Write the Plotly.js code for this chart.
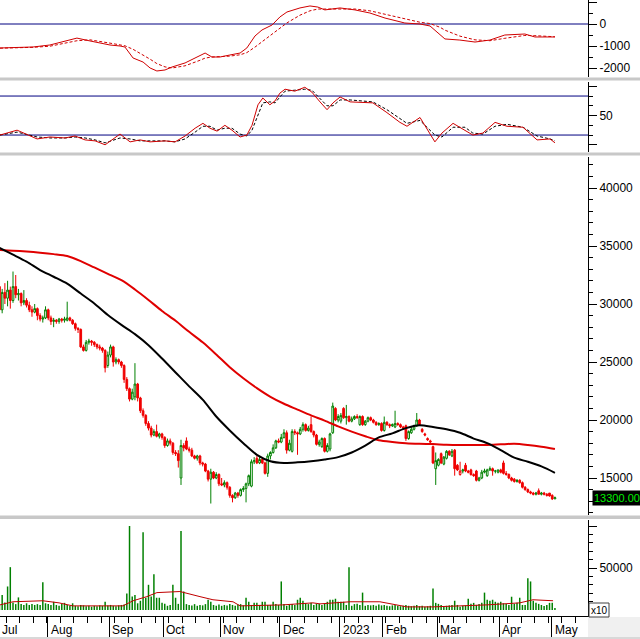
<!DOCTYPE html>
<html><head><meta charset="utf-8">
<script src="https://cdn.plot.ly/plotly-3.0.1.min.js"></script>
<style>html,body{margin:0;padding:0;background:#fff;overflow:hidden}#chart{width:640px;height:639px}</style>
</head><body><div id="chart"></div>
<script>
// ---- Daily OHLC (trading-day index 0..205, Jul 2022 .. early May 2023) ----
const openP = [31500,29500,31000,30500,31200,30300,31500,30800,30900,30100,
30300,29900,29500,29300,29600,29000,28700,28800,29500,28800,
28500,28600,28500,28700,28600,28600,28800,28600,28300,27900,
27800,26300,26000,26700,26800,26700,26500,26300,26200,26000,
24700,25600,26300,25000,25200,25000,24700,23500,22700,21800,
22000,23100,21900,20800,20400,19700,19300,18700,19000,18600,
18800,18500,17800,18200,18000,17200,17100,15000,17800,18200,
17500,17400,16900,16700,16900,16300,16200,15600,14900,15500,
15000,15300,14500,14400,14600,14200,13500,13300,13700,13500,
14000,14100,14500,14300,16400,16700,16300,16600,16300,15400,
16900,17200,17600,18200,18100,18500,18900,17400,17300,19000,
18900,18800,19200,19600,19100,19600,19000,18700,17900,17700,
18400,17300,17500,18900,21000,20000,19900,21000,20200,20300,
19900,20100,20300,19600,20300,19600,19900,20200,20000,19800,
19600,19700,19100,19800,19600,19500,19400,19700,19600,19400,
19500,18400,18900,19200,19500,20000,19200,18800,18400,18200,
17700,15800,16100,17100,16200,16700,17300,16900,17400,16100,
15300,15600,16100,15600,15700,15300,15600,14800,15000,15500,
15200,15700,15800,15600,15500,15700,16300,15400,15300,15000,
14900,14700,14800,14600,14200,14000,13800,13700,13600,13900,
13600,13700,13600,13700,13500,13200];
const highP = [32300,31300,31800,32000,31500,32800,32500,31300,31000,31200,
30500,30200,29800,30000,29700,29200,29000,29800,29600,29000,
28800,28700,28800,28800,28900,30200,28900,28700,28400,28000,
27900,26500,26900,27000,26900,26800,26600,26500,26300,26100,
25900,26500,26400,25400,25300,25100,24800,23700,22800,22700,
24900,23200,22000,21000,20500,19900,19500,19200,19600,18900,
18900,18600,18400,18400,18100,17400,17400,18300,18000,18500,
17700,17600,17000,17000,17000,16400,16300,15700,15800,15600,
15500,15400,15000,14800,14700,14300,13600,13800,13800,14100,
14300,14600,15300,16600,16800,16900,16900,16700,16400,17100,
17300,17900,18300,18400,18800,19200,19100,18300,19200,19200,
19000,19400,19800,19700,19500,20300,19100,18800,18300,18500,
18500,18000,18900,21500,21100,20500,20600,21100,21300,20400,
20300,20400,20500,20400,20400,20000,20300,20300,20100,19900,
19800,19800,20300,19900,19700,19700,20800,19800,19700,19500,
19600,19100,19400,19600,20600,20100,19300,18900,18500,18300,
17800,17200,16700,17200,16900,17400,17400,17500,17500,16200,
16400,15800,16300,15700,15800,15400,15700,15100,15700,15800,
15800,16000,15900,15700,15700,15800,16500,15600,15400,15100,
15000,14900,14900,14700,14300,14100,13900,13800,13800,14100,
13800,13800,13700,13700,13600,13400];
const lowP = [29200,29200,30000,29800,29600,30100,30500,30300,29800,29900,
29700,29300,28900,29200,28600,28500,28400,28700,28600,28200,
28000,28300,28300,28400,28400,28500,28500,28200,27700,27500,
26200,25900,25900,26500,26400,26300,26100,26000,25800,24100,
24500,25400,24600,24800,24800,24500,23200,22500,21600,21700,
21700,21600,20600,20200,19500,19100,18500,18600,18500,18400,
18300,17600,17700,17800,17000,16900,15900,14400,17300,17400,
17200,16800,16600,16500,16100,16000,15500,14700,12800,14900,
14900,14300,14300,14200,14000,13300,12900,13200,13300,13400,
13800,12900,14300,14200,16200,16200,16200,16200,15300,15100,
16600,17100,17500,18000,18000,18400,17100,17300,17200,18700,
17000,18700,19000,19000,19000,18900,18500,17800,17700,17600,
17200,17200,17300,18800,19900,19800,19700,20100,19600,19800,
19800,20000,20100,19500,19500,19500,19800,19900,19700,19500,
19500,19000,19000,19500,19300,19400,19300,19500,19300,19200,
18200,18300,18800,19100,19400,19500,18900,18600,18200,17900,
16200,14400,16000,16200,16100,16600,16900,16800,15200,15600,
15200,15400,15500,15400,15200,15100,14700,14700,14900,15400,
15100,15600,15200,15400,15400,15400,15300,15200,14900,14700,
14600,14600,14500,14100,13900,13700,13600,13500,13500,13600,
13500,13500,13400,13400,13100,13200];
const closeP = [29500,31000,30500,31200,30300,31500,30800,30900,30100,30300,
29900,29500,29300,29600,29000,28700,28800,29500,28800,28500,
28600,28500,28700,28600,28700,28800,28600,28300,27900,27800,
26300,26000,26700,26800,26700,26500,26300,26200,26000,24500,
25600,26300,25000,25200,25000,24700,23500,22700,21800,22400,
23100,21900,20800,20400,19700,19300,18700,19000,18600,18800,
18500,17800,18200,18000,17200,17100,16500,17800,17600,17500,
17400,16900,16700,16900,16300,16200,15600,14900,15500,15000,
15300,14500,14400,14600,14200,13500,13300,13700,13500,14000,
14100,14500,15200,16400,16500,16300,16600,16300,15400,16900,
17200,17600,18200,18100,18500,18900,17400,18000,19000,18900,
18800,19200,19600,19100,19300,19000,18700,17900,18100,18400,
17300,17800,18800,21200,20000,20300,20400,20200,20300,19900,
20100,20300,20200,20300,19600,19900,20200,20000,19800,19600,
19700,19100,19800,19600,19500,19600,19700,19600,19400,19300,
18400,19000,19200,19500,20000,19600,19000,18700,18300,18100,
16300,16500,16600,16300,16800,17300,17000,17300,15800,15700,
15600,15700,15600,15500,15300,15200,14800,15000,15500,15600,
15700,15800,15600,15600,15700,15500,15400,15300,15000,14800,
14700,14800,14600,14200,14000,13800,13700,13600,13700,13600,
13700,13600,13500,13450,13200,13300];
const volume = [6000,18000,9000,28000,51000,9000,7000,15000,7000,6000,
8000,6000,7000,6000,7000,6000,33000,8000,7000,6000,
9800,6000,5000,7000,8500,6000,5000,8000,5000,4500,
6000,5500,4500,5000,4000,5000,4500,5500,5000,9800,
5500,6000,5000,4500,5500,6000,6500,19500,100000,16000,
18000,8000,11000,92700,14600,30000,16000,42700,14600,14600,
8500,7300,5000,6000,30000,14600,7300,94000,22000,7000,
6000,5500,7000,5000,6000,5500,7000,12200,9800,6000,
5000,6500,5000,6000,5500,7000,6000,5000,6500,7000,
5500,14600,9800,6000,8500,8500,6000,9800,9800,6000,
6000,9800,7000,6000,34000,7000,5000,6000,7000,6000,
12200,14600,11000,8000,7000,8500,6000,7300,7300,6000,
7300,9800,12200,12200,13400,9800,9800,9800,6000,51000,
5000,7000,7300,6000,20700,5000,6000,5500,6000,5000,
6500,5500,6000,5000,4500,5500,6000,5000,4500,5000,
6000,5000,4500,5000,6000,4500,5000,4000,4500,5000,
25600,8500,7300,6000,4900,5000,5500,6000,11000,6000,
4000,5000,5500,13400,7300,8500,6000,7000,8500,20700,
12200,11000,12200,9800,8500,9800,8000,7000,6000,15800,
7300,8500,14600,6000,6000,37800,34000,11000,8500,7300,
6000,4900,6000,8500,8500,2500];

// ---- Moving averages (every 5 trading days) ----
const maIdx = [0,5,10,15,20,25,30,35,40,45,50,55,60,65,70,75,80,85,90,95,100,
105,110,115,120,125,130,135,140,145,150,155,160,165,170,175,180,185,190,195,200,205];
const maBlack = [34830,34250,33650,32930,32350,31750,30900,30050,29050,28200,27400,26450,25300,24100,22900,21750,20300,19100,18000,17000,16450,
16300,16350,16450,16600,16800,17200,17800,18500,18850,19300,19550,19400,19200,18900,18400,18000,17400,16750,16400,16000,15450];
const maRed = [34660,34600,34520,34420,34300,34140,33700,33150,32600,32050,31250,30350,29400,28550,27600,26700,25650,24550,23600,22750,22000,
21400,20900,20400,19950,19450,19000,18600,18250,18100,18000,17950,17920,17870,17850,17850,17850,17900,17950,17850,17700,17500];

// ---- MACD panel ----
const macdX = [0.2,5.7,12.4,18.6,24.2,28.6,33.4,37.1,40.8,44.5,46.3,49.3,53,55.6,58.1,61.1,63.7,68.5,74,75.9,78.4,81.4,85,88.8,91.3,94.3,96.9,100.6,103.5,106.1,110.9,114.6,117.5,120.1,125.7,131.2,136.7,142.3,149.6,155.2,158.9,162.6,164.4,169.9,175.5,181,186.5,193.9,197.6,205];
const macdVal = [-1090,-1070,-1045,-955,-770,-640,-770,-860,-955,-1000,-1045,-1545,-1730,-2000,-2135,-2090,-1955,-1770,-1410,-1320,-1500,-1500,-1410,-1320,-1090,-545,-270,-45,320,545,730,820,770,640,730,640,500,270,45,0,-90,-500,-680,-730,-820,-730,-500,-455,-590,-590];
const macdSig = [-1100,-1085,-1060,-1010,-880,-760,-720,-780,-870,-950,-990,-1150,-1400,-1600,-1800,-1950,-2000,-1900,-1650,-1550,-1500,-1490,-1460,-1400,-1300,-1050,-800,-450,-200,50,400,600,680,680,690,680,600,450,230,80,20,-150,-280,-550,-720,-760,-650,-520,-530,-580];

// ---- RSI panel ----
const rsiX = [0.2,6.5,13.9,18.6,24.2,27.9,31.6,35.3,39,44.5,48.2,51.9,55.6,61.1,64.8,68.5,72.2,75.1,77.7,80.3,83.2,85.8,88.8,91.3,93.2,95.4,97.2,99.8,101.7,103.5,105.4,109,112.7,115.3,118.3,120.9,123.1,125.7,129.4,137.8,143,147.8,150.4,155.2,160.7,163.3,167.4,171.8,174.7,178.4,182.9,187.3,193.2,198.4,203.2,205];
const rsiVal = [30,35,26,28,27,29,25,24,20,31,23,25,23,24,23,29,37,42,37,34,40,35,28,30,40,61,68,61,65,73,77,75,79,74,64,56,63,69,64,63,53,43,39,48,23,32,42,35,30,32,43,39,38,25,26,22];
const rsiSig = [30,33,28,27,27,28,27,25,22,27,26,24,24,24,23,26,33,39,39,35,37,37,31,29,35,50,63,64,63,69,75,76,77,76,68,60,60,66,66,64,56,47,42,45,30,28,38,38,32,31,39,41,38,29,26,24];

// ---- Volume moving average ----
const vmaX = [0.2,5,16,22,27,45.6,49.3,54.4,58.1,66.6,74,78.8,86.2,88.8,104.6,115.7,118.3,129.4,140.4,150.4,160,179.9,192,196.9,204.3];
const vmaVal = [6100,9800,11000,8500,4900,4900,11000,15900,20700,22000,15900,12200,9800,4900,6100,8500,7300,9800,9800,3700,3700,6100,8500,12200,11000];

// ---- Axis labels ----
const monthTickIdx = [17.9,40.5,60.5,81.5,103.5,125.5,141.5,161.5,184.5,203.8];
const monthLabels = ['Aug','Sep','Oct','Nov','Dec','2023','Feb','Mar','Apr','May'];
const lastPriceLabel = '13300.00';
const lastPrice = 13300;

// ---------------------------------------------------------------
const H = 639, W = 640, PR = 588;
const py = p => (H - p) / H;
const G = '#008000', R = '#f00000';
const day = closeP.map((_, i) => i);

const up = {x:[],open:[],high:[],low:[],close:[]};
const dn = {x:[],open:[],high:[],low:[],close:[]};
for (let i = 0; i < closeP.length; i++) {
  const t = (i > 0 && closeP[i] >= closeP[i-1]) ? up : dn;
  t.x.push(day[i]); t.open.push(openP[i]); t.high.push(highP[i]); t.low.push(lowP[i]); t.close.push(closeP[i]);
}
function candle(d, c) {
  return {type:'candlestick', x:d.x, open:d.open, high:d.high, low:d.low, close:d.close,
    xaxis:'x', yaxis:'y3', whiskerwidth:0, hoverinfo:'skip',
    increasing:{line:{color:c, width:1}, fillcolor:'#ffffff'},
    decreasing:{line:{color:c, width:1}, fillcolor:c}};
}

const traces = [
  {type:'scatter', mode:'lines', x:macdX, y:macdSig, xaxis:'x', yaxis:'y', line:{color:'#d00000', width:1, dash:'3px,2px'}, hoverinfo:'skip'},
  {type:'scatter', mode:'lines', x:macdX, y:macdVal, xaxis:'x', yaxis:'y', line:{color:'#d00000', width:1}, hoverinfo:'skip'},
  {type:'scatter', mode:'lines', x:rsiX, y:rsiSig, xaxis:'x', yaxis:'y2', line:{color:'#000000', width:1, dash:'3px,2px'}, hoverinfo:'skip'},
  {type:'scatter', mode:'lines', x:rsiX, y:rsiVal, xaxis:'x', yaxis:'y2', line:{color:'#d00000', width:1}, hoverinfo:'skip'},
  candle(up, G),
  candle(dn, R),
  {type:'scatter', mode:'lines', x:maIdx, y:maRed, xaxis:'x', yaxis:'y3', line:{color:'#e00000', width:2, shape:'spline', smoothing:0.8}, hoverinfo:'skip'},
  {type:'scatter', mode:'lines', x:maIdx, y:maBlack, xaxis:'x', yaxis:'y3', line:{color:'#000000', width:2, shape:'spline', smoothing:0.8}, hoverinfo:'skip'},
  {type:'bar', x:day, y:volume, xaxis:'x', yaxis:'y4', width:0.55, marker:{color:G, line:{width:0}}, hoverinfo:'skip'},
  {type:'scatter', mode:'lines', x:vmaX, y:vmaVal, xaxis:'x', yaxis:'y4', line:{color:'#c00000', width:1}, hoverinfo:'skip'}
];

const yCommon = {anchor:'x', side:'right', showline:true, linecolor:'#000', linewidth:1, showgrid:false, zeroline:false,
  ticks:'outside', ticklen:8, tickwidth:1, tickcolor:'#000', tickmode:'array', fixedrange:true,
  tickfont:{family:'Liberation Sans, Arial, sans-serif', size:12, color:'#000'}};
const minorY = d => ({tickmode:'linear', tick0:0, dtick:d, ticks:'outside', ticklen:4, tickwidth:1, tickcolor:'#000', showgrid:false});

const annotations = monthTickIdx.map((v, k) => ({xref:'x', yref:'paper', x:v + 0.4, y:py(629.5), xanchor:'left', yanchor:'middle',
  text:monthLabels[k], showarrow:false, font:{size:12, color:'#000'}}));
annotations.push({xref:'paper', yref:'paper', x:0, y:py(629.5), xanchor:'left', yanchor:'middle', text:'Jul', showarrow:false, font:{size:12, color:'#000'}});
annotations.push({xref:'paper', yref:'y3', x:592/W, y:lastPrice, xanchor:'left', yanchor:'middle', text:lastPriceLabel, showarrow:false,
  bgcolor:'#000000', borderpad:1, font:{size:11, color:'#00ee00'}});
annotations.push({xref:'paper', yref:'paper', x:599/W, y:py(610.5), xanchor:'center', yanchor:'middle', text:'x10', showarrow:false, font:{size:10, color:'#000'}});

const sep = (a, b) => ({type:'rect', xref:'paper', yref:'paper', x0:0, x1:1, y0:py(b), y1:py(a), fillcolor:'#c8c8c8', line:{width:0}, layer:'above'});
const shapes = [
  {type:'line', xref:'paper', x0:0, x1:PR/W, yref:'y', y0:0, y1:0, line:{color:'#000080', width:1}, layer:'below'},
  {type:'line', xref:'paper', x0:0, x1:PR/W, yref:'y2', y0:70, y1:70, line:{color:'#000080', width:1}, layer:'below'},
  {type:'line', xref:'paper', x0:0, x1:PR/W, yref:'y2', y0:30, y1:30, line:{color:'#000080', width:1}, layer:'below'},
  sep(77.5, 80.5), sep(152.5, 155.5), sep(515.5, 519),
  {type:'rect', xref:'paper', yref:'paper', x0:PR/W, x1:1, y0:0, y1:py(617), fillcolor:'#f0f0f0', line:{width:0}, layer:'above'},
  {type:'rect', xref:'paper', yref:'paper', x0:0, x1:1, y0:0, y1:py(637), fillcolor:'#d8d8d8', line:{width:0}, layer:'above'},
  {type:'rect', xref:'paper', yref:'paper', x0:589/W, x1:609/W, y0:py(617), y1:py(603), fillcolor:'#ffffff', line:{color:'#404040', width:1}, layer:'above'}
];

const layout = {
  width:W, height:H, margin:{l:0, r:0, t:0, b:0}, paper_bgcolor:'#ffffff', plot_bgcolor:'#ffffff',
  showlegend:false, hovermode:false, boxgap:0.1, boxmode:'overlay',
  font:{family:'Liberation Sans, Arial, sans-serif', size:12, color:'#000'},
  xaxis:{domain:[0, PR/W], range:[0.2, 217.2], anchor:'y4', showgrid:false, zeroline:false, showline:true, linecolor:'#000', linewidth:1,
    tickmode:'array', tickvals:monthTickIdx, ticktext:monthTickIdx.map(() => ''), ticks:'outside', ticklen:20, tickwidth:1, tickcolor:'#000',
    minor:{tickmode:'linear', tick0:2.5, dtick:5, ticks:'outside', ticklen:6, tickwidth:1, tickcolor:'#000', showgrid:false},
    rangeslider:{visible:false}, fixedrange:true},
  yaxis: Object.assign({}, yCommon, {domain:[py(77), 1], range:[-2409, 1091], tickvals:[-2000,-1000,0,1000], ticktext:['-2000','-1000','0',''], minor:minorY(500)}),
  yaxis2: Object.assign({}, yCommon, {domain:[py(152), py(82)], range:[12.6, 84.4], tickvals:[20,50,80], ticktext:['','50',''], minor:minorY(10)}),
  yaxis3: Object.assign({}, yCommon, {domain:[py(515), py(157)], range:[11810, 42672], tickvals:[15000,20000,25000,30000,35000,40000], ticktext:['15000','20000','25000','30000','35000','40000'], minor:minorY(1000)}),
  yaxis4: Object.assign({}, yCommon, {domain:[py(616), py(520)], range:[-7143, 107143], tickvals:[50000,100000], ticktext:['50000',''], minor:minorY(10000)}),
  shapes:shapes, annotations:annotations
};

Plotly.newPlot('chart', traces, layout, {staticPlot:true, displayModeBar:false});
</script>
</body></html>
